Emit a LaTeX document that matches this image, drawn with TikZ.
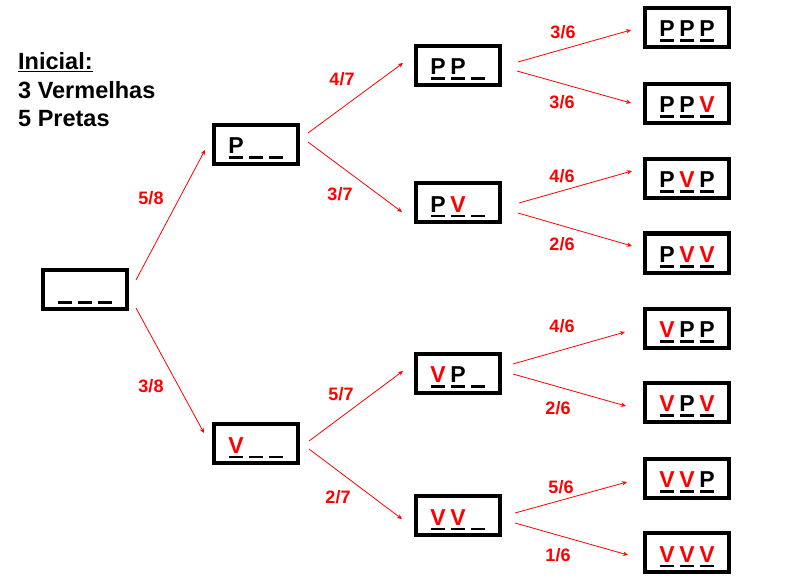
\documentclass[tikz,border=0pt]{standalone}
\usepackage{fontspec}
\setmainfont{Liberation Sans}
\usetikzlibrary{arrows.meta}
\definecolor{rd}{RGB}{255,0,0}
\newcommand\slt[1]{\makebox[20pt]{\vtop{\hbox to 14pt{\hss#1\hss}\kern2.5pt\hrule height 2.5pt depth 0pt width 14pt}}}
\newcommand\lp{P}
\newcommand\lv{\textcolor{rd}{V}}
\begin{document}
\begin{tikzpicture}[x=1pt,y=-1pt,
  box/.style={draw, line width=4pt, minimum width=84pt, minimum height=39pt, inner sep=0pt,
    text height=24pt, text depth=5pt, font=\bfseries\fontsize{23}{23}\selectfont},
  lab/.style={text=rd, inner sep=0pt, font=\bfseries\fontsize{18}{18}\selectfont},
  ttl/.style={anchor=base west, inner sep=0pt, font=\bfseries\fontsize{23.5}{23.5}\selectfont},
  arr/.style={draw=rd, line width=0.8pt, -{Stealth[length=5pt,width=4.5pt]}}]
\useasboundingbox (0,0) rectangle (803,580);
% title
\node[ttl] (t1) at (18,70) {\underline{Inicial:}};
\node[ttl] (t2) at (18,98.5) {3 Vermelhas};
\node[ttl] (t3) at (18,127) {5 Pretas};
% boxes
\node[box] (root) at (85,289) {\slt{}\slt{}\slt{}};
\node[box] (P1) at (256,144.5) {\slt{\lp}\slt{}\slt{}};
\node[box] (V1) at (256,443.5) {\slt{\lv}\slt{}\slt{}};
\node[box] (PP) at (458,65.5) {\slt{\lp}\slt{\lp}\slt{}};
\node[box] (PV) at (458,202.5) {\slt{\lp}\slt{\lv}\slt{}};
\node[box] (VP) at (458,373) {\slt{\lv}\slt{\lp}\slt{}};
\node[box] (VV) at (458,515.5) {\slt{\lv}\slt{\lv}\slt{}};
\node[box] (PPP) at (687,27.5) {\slt{\lp}\slt{\lp}\slt{\lp}};
\node[box] (PPV) at (687,103.5) {\slt{\lp}\slt{\lp}\slt{\lv}};
\node[box] (PVP) at (687,178.5) {\slt{\lp}\slt{\lv}\slt{\lp}};
\node[box] (PVV) at (687,253) {\slt{\lp}\slt{\lv}\slt{\lv}};
\node[box] (VPP) at (687,328) {\slt{\lv}\slt{\lp}\slt{\lp}};
\node[box] (VPV) at (687,402) {\slt{\lv}\slt{\lp}\slt{\lv}};
\node[box] (VVP) at (687,478) {\slt{\lv}\slt{\lv}\slt{\lp}};
\node[box] (VVV) at (687,552.5) {\slt{\lv}\slt{\lv}\slt{\lv}};
% arrows
\draw[arr] ([shift={(7,-9)}]root.east) -- ([shift={(-7,5.5)}]P1.west);
\draw[arr] ([shift={(7,19)}]root.east) -- ([shift={(-8,-10.5)}]V1.west);
\draw[arr] ([shift={(8,-11.5)}]P1.east) -- ([shift={(-11,-2.5)}]PP.west);
\draw[arr] ([shift={(8,-2.5)}]P1.east) -- ([shift={(-12,9.5)}]PV.west);
\draw[arr] ([shift={(9,-2.5)}]V1.east) -- ([shift={(-11,-2)}]VP.west);
\draw[arr] ([shift={(9,5.5)}]V1.east) -- ([shift={(-12,3.5)}]VV.west);
\draw[arr] ([shift={(16,-3.5)}]PP.east) -- ([shift={(-12,2.5)}]PPP.west);
\draw[arr] ([shift={(15,5.5)}]PP.east) -- ([shift={(-12,-0.5)}]PPV.west);
\draw[arr] ([shift={(17,0.5)}]PV.east) -- ([shift={(-11,-7.5)}]PVP.west);
\draw[arr] ([shift={(16,10.5)}]PV.east) -- ([shift={(-11,-7)}]PVV.west);
\draw[arr] ([shift={(11,-9)}]VP.east) -- ([shift={(-18,4)}]VPP.west);
\draw[arr] ([shift={(11,1)}]VP.east) -- ([shift={(-17,4)}]VPV.west);
\draw[arr] ([shift={(13,-2.5)}]VV.east) -- ([shift={(-16,4)}]VVP.west);
\draw[arr] ([shift={(13,7.5)}]VV.east) -- ([shift={(-15,2.5)}]VVV.west);
% labels
\node[lab] (l58) at (151,198) {5/8};
\node[lab] (l38) at (151,386) {3/8};
\node[lab] (l47) at (342,79) {4/7};
\node[lab] (l37) at (340,194) {3/7};
\node[lab] (l57) at (341,394) {5/7};
\node[lab] (l27) at (338,497) {2/7};
\node[lab] (la) at (563,32) {3/6};
\node[lab] (lb) at (562,102) {3/6};
\node[lab] (lc) at (562,176) {4/6};
\node[lab] (ld) at (562,244) {2/6};
\node[lab] (le) at (562,326) {4/6};
\node[lab] (lf) at (558,408) {2/6};
\node[lab] (lg) at (561,487) {5/6};
\node[lab] (lh) at (558,555) {1/6};
\end{tikzpicture}
\end{document}
